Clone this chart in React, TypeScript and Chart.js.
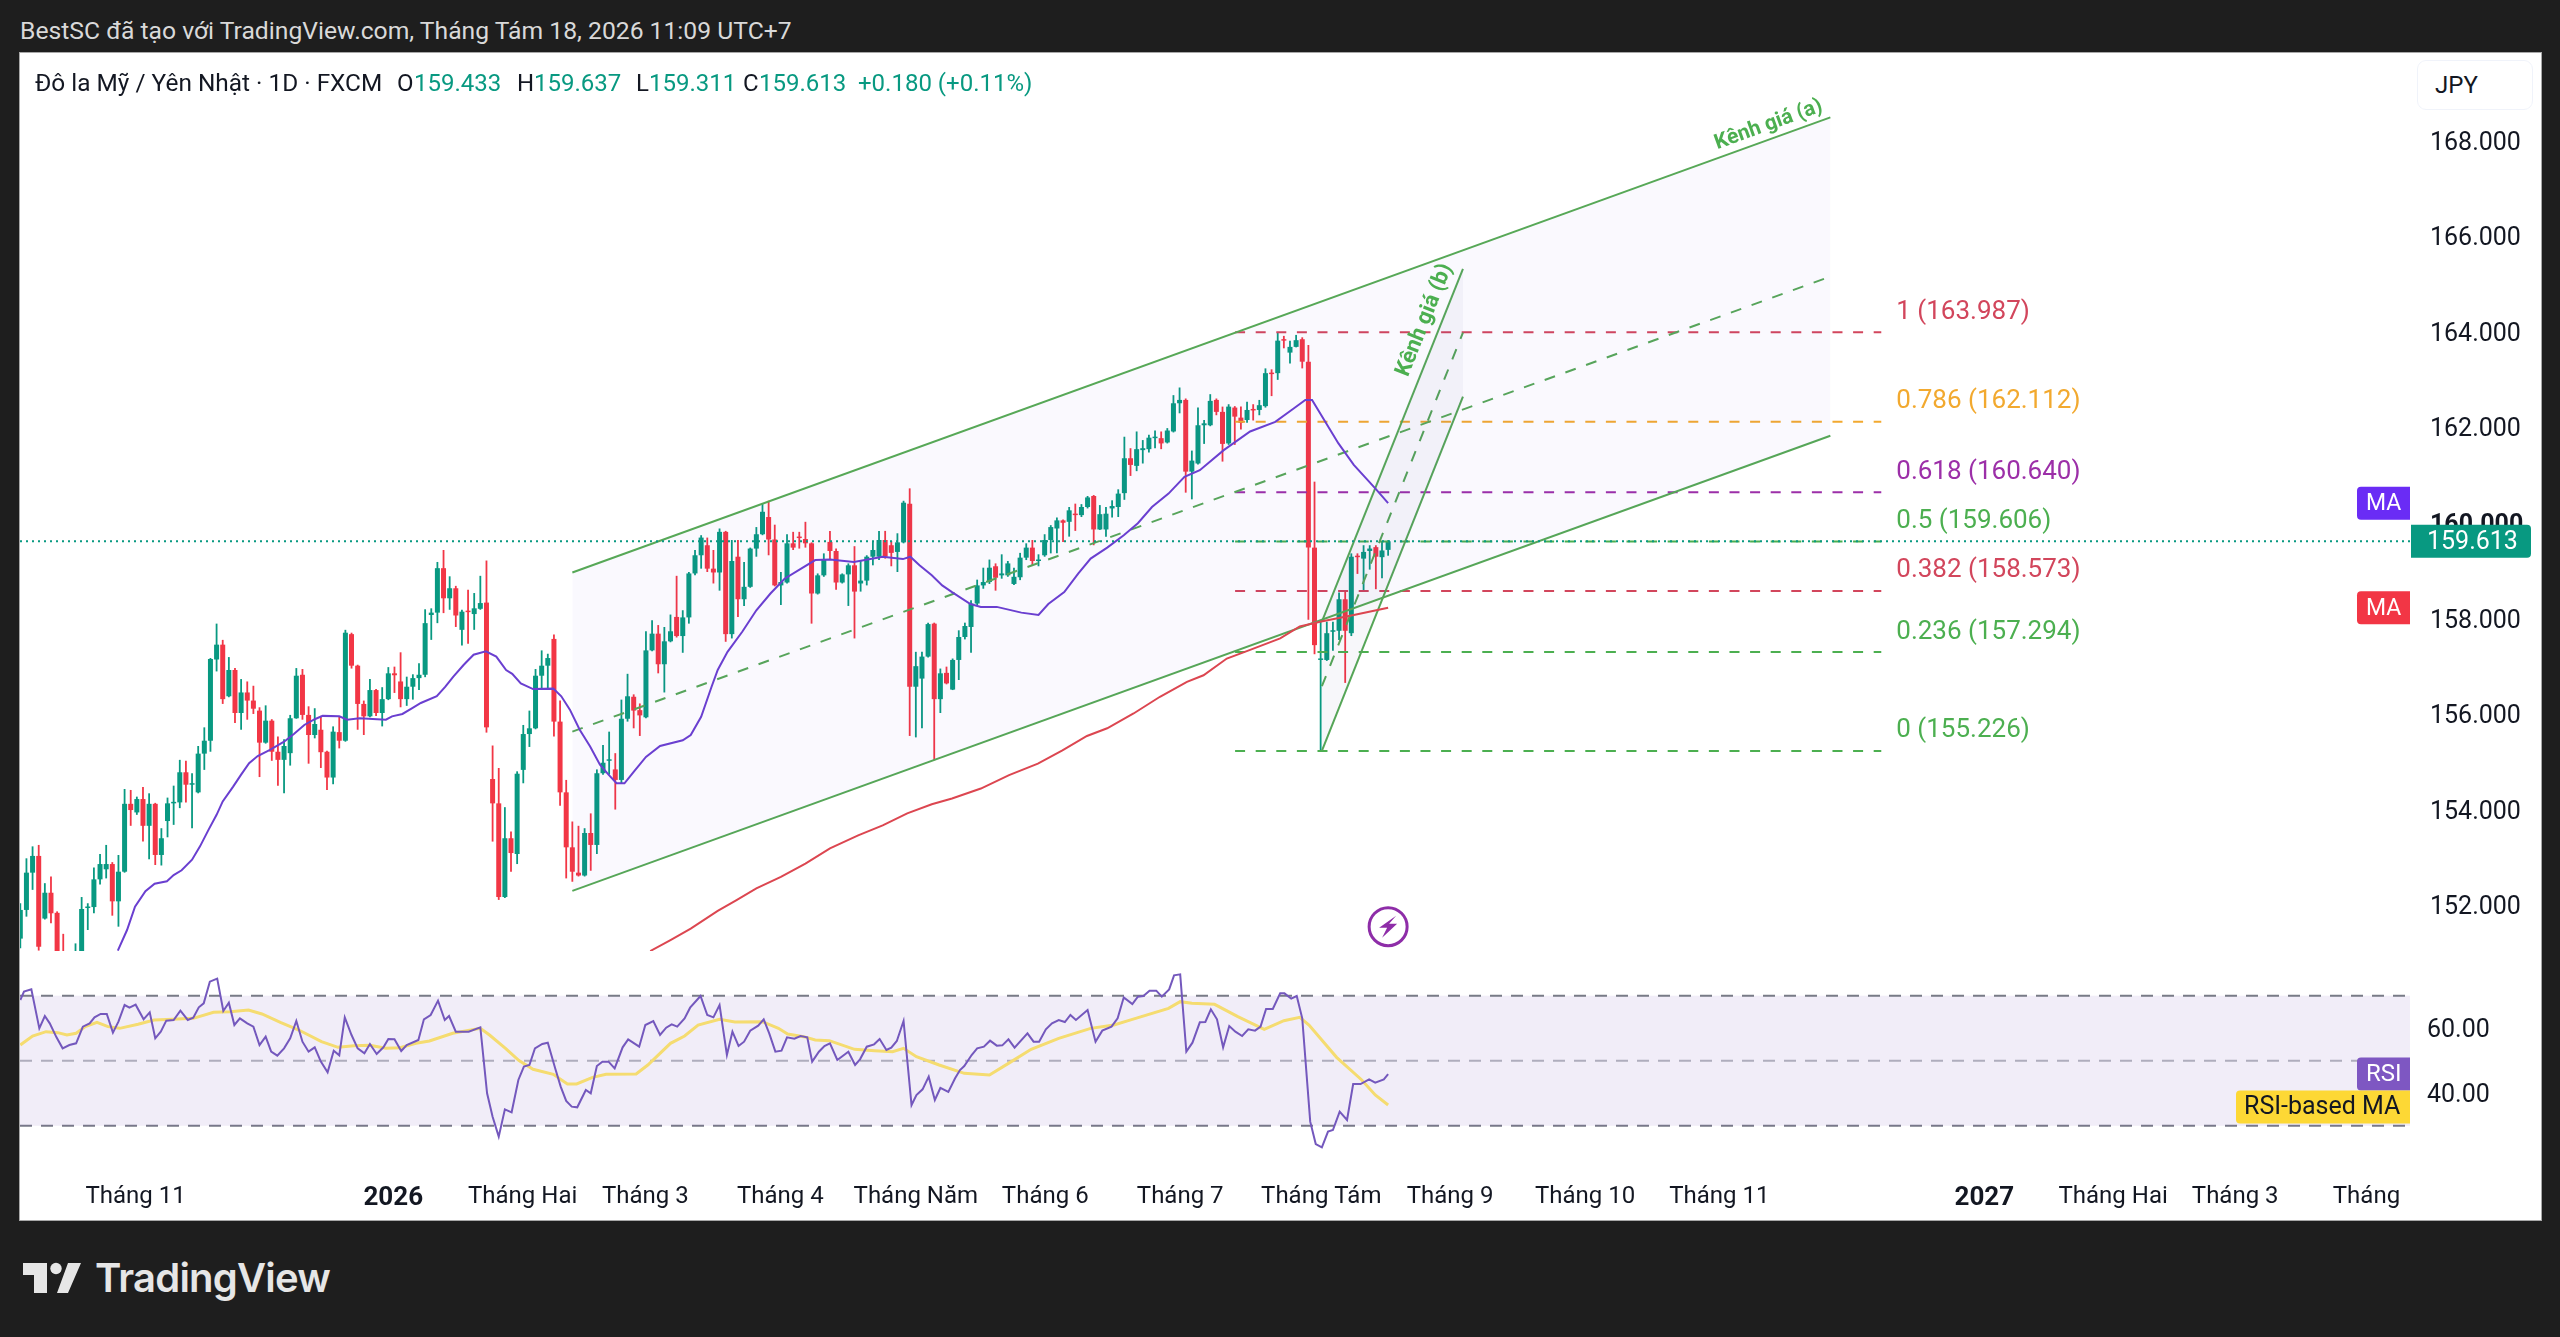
import React, { useEffect, useRef } from "react";
import { Chart, registerables } from "chart.js";

Chart.register(...registerables);

// ---------- candle series (index 0 .. 223, daily) ----------
const opens = [151.30,151.90,152.68,153.03,151.72,152.26,151.84,150.90,150.50,150.30,150.80,151.94,151.96,152.54,152.75,152.86,152.08,152.70,154.12,153.94,154.22,153.66,154.12,153.05,153.76,154.13,154.15,154.78,154.52,154.36,155.17,155.44,157.14,157.45,156.37,156.92,156.02,156.45,156.28,156.07,155.40,155.86,155.21,155.04,155.18,155.91,156.82,155.98,155.56,155.67,155.21,154.67,155.62,155.44,157.67,157.01,156.21,155.95,156.50,156.02,156.31,156.85,156.68,156.31,156.57,156.75,156.82,158.07,158.12,159.05,158.42,158.63,157.76,158.14,158.09,158.20,158.33,154.64,154.13,152.17,153.40,153.07,154.83,155.58,155.70,156.80,157.01,157.57,155.84,154.36,153.21,152.68,152.62,153.51,153.26,154.76,155.02,154.84,154.62,155.90,156.36,156.08,155.93,157.33,157.68,157.04,157.52,158.03,157.63,158.02,158.94,159.32,159.53,159.04,158.96,159.81,157.67,159.29,158.40,158.66,159.46,159.76,160.12,159.65,158.69,158.75,159.57,159.69,159.66,159.57,158.52,158.90,159.60,159.41,158.75,158.92,159.11,158.73,158.79,159.29,159.29,159.64,159.53,159.39,159.59,160.40,156.57,156.74,157.20,157.89,156.31,156.86,156.51,157.13,157.61,157.82,158.31,158.69,158.76,159.09,158.90,158.90,158.72,158.86,159.27,159.48,159.20,159.32,159.64,159.88,160.05,160.02,160.19,160.16,160.33,160.56,159.86,159.86,160.30,160.33,160.62,161.35,161.19,161.52,161.54,161.77,161.77,161.68,161.91,162.50,162.57,161.07,161.24,162.04,162.04,162.57,162.32,161.66,162.41,162.20,162.15,162.37,162.36,162.44,163.14,163.13,163.82,163.56,163.68,163.84,163.37,159.48,157.13,157.13,157.72,157.74,158.40,157.69,159.29,159.25,159.41,159.49,159.28,159.433];
const highs = [152.04,152.98,153.23,153.26,152.46,152.60,151.87,151.40,150.90,151.20,152.17,152.04,152.79,153.07,153.26,152.90,153.05,154.43,154.41,154.27,154.47,154.34,154.14,153.61,154.25,154.50,155.04,155.02,154.76,155.33,155.72,157.17,157.89,157.55,157.19,156.96,156.73,156.68,156.59,156.14,156.18,155.89,155.53,155.47,155.98,156.96,156.94,156.16,156.12,155.96,155.23,155.74,155.95,157.76,157.70,157.03,156.28,156.73,156.52,156.56,156.98,156.99,157.29,156.78,156.83,157.06,158.19,158.21,159.18,159.43,158.88,158.68,158.18,158.60,158.53,158.89,159.21,155.34,154.87,154.05,153.54,154.80,155.77,156.07,156.94,157.33,157.26,157.66,156.28,154.62,153.75,153.66,153.61,153.92,154.84,155.35,155.63,155.18,156.30,156.84,156.41,156.22,157.73,157.96,157.86,157.82,158.08,158.89,158.17,158.97,159.43,159.74,159.69,159.43,159.88,159.83,159.64,159.64,159.18,159.48,159.91,160.40,160.46,159.96,158.97,159.76,159.81,159.81,160.02,159.59,158.94,159.36,159.83,159.46,158.94,159.15,159.51,159.22,159.32,159.62,159.83,159.83,159.62,159.78,160.46,160.72,157.30,157.30,157.91,157.91,156.95,156.99,157.16,157.75,157.91,158.38,158.81,159.06,159.23,159.15,159.34,159.20,159.06,159.37,159.57,159.64,159.34,159.76,159.95,160.11,160.07,160.33,160.40,160.39,160.56,160.58,160.37,160.33,160.47,160.70,161.80,161.56,161.91,161.73,161.84,161.93,161.91,161.98,162.67,162.83,162.60,161.51,162.41,162.15,162.69,162.60,162.43,162.48,162.44,162.43,162.53,162.48,162.57,163.23,163.21,163.98,163.91,163.81,163.93,163.88,163.72,160.86,157.93,157.93,157.93,158.54,158.58,159.36,159.36,159.53,159.53,159.53,159.60,159.637];
const lows = [151.10,151.76,152.32,151.05,151.70,151.62,150.70,150.20,150.10,150.10,150.70,151.48,151.83,152.43,152.56,151.78,151.55,152.68,153.66,153.89,153.33,152.96,152.84,152.83,153.42,153.68,154.03,154.15,153.61,154.34,154.83,155.21,156.89,156.21,156.35,155.81,155.67,155.88,156.00,154.68,155.38,155.02,154.50,154.34,154.92,155.90,155.88,154.96,155.49,154.87,154.41,154.53,155.28,155.42,156.95,155.67,155.56,155.93,155.96,155.74,156.29,156.44,156.14,156.17,156.30,156.50,156.77,157.55,157.90,158.11,158.18,157.82,157.43,157.47,157.76,158.18,155.61,153.33,152.11,152.15,152.70,152.86,154.55,155.31,155.68,156.54,156.54,155.53,154.08,152.56,152.49,152.60,152.60,152.72,153.07,154.73,154.73,154.00,154.55,155.84,155.70,155.54,155.91,157.31,156.85,156.45,157.50,157.60,157.28,157.89,158.90,159.04,158.97,158.73,158.58,157.51,157.58,158.03,158.26,158.64,159.29,159.74,159.32,158.67,158.28,158.73,159.43,159.46,159.48,157.89,158.50,158.87,159.22,158.60,158.73,158.26,157.58,158.56,158.69,159.11,159.22,159.25,159.09,158.97,159.57,155.54,155.51,155.70,157.18,155.03,156.02,156.62,156.50,156.71,157.56,157.28,158.28,158.62,158.72,158.58,158.83,158.87,158.70,158.80,159.22,159.11,159.09,159.29,159.36,159.36,159.60,159.71,159.83,160.12,160.30,159.53,159.85,159.71,160.11,160.12,160.48,160.98,161.08,161.24,161.47,161.56,161.54,161.66,161.89,162.29,160.63,160.49,161.22,161.65,162.02,162.25,161.28,161.63,161.63,161.95,162.09,162.14,162.25,162.41,162.65,162.99,163.65,163.33,163.67,163.23,157.97,157.25,155.23,157.11,157.32,157.55,156.65,157.63,158.93,158.59,159.02,158.61,158.84,159.311];
const closes = [151.90,152.68,153.03,151.13,152.26,151.83,150.90,150.50,150.30,150.80,151.92,151.97,152.54,152.86,152.86,152.08,152.70,154.12,153.99,154.22,153.66,154.12,153.05,153.40,154.13,154.15,154.78,154.52,154.53,155.17,155.44,157.15,157.45,156.31,156.92,156.02,156.45,156.28,156.11,155.40,155.86,155.21,155.04,155.33,155.91,156.80,155.98,155.56,155.79,155.20,154.67,155.63,155.44,157.70,157.01,156.21,155.95,156.50,156.02,156.31,156.85,156.81,156.31,156.57,156.75,156.82,157.90,158.12,159.05,158.42,158.63,158.06,158.14,158.13,158.21,158.32,155.72,154.13,152.17,153.40,153.09,154.75,155.58,155.70,156.80,157.01,157.17,155.84,154.36,153.21,152.70,152.62,153.51,153.26,154.76,154.98,155.04,154.62,155.90,156.37,156.07,155.97,157.33,157.68,157.04,157.52,157.73,157.63,158.02,158.94,159.32,159.69,159.04,158.96,159.81,157.67,159.20,158.40,158.66,159.46,159.76,160.23,159.65,158.69,158.76,159.57,159.48,159.68,159.57,158.52,158.90,159.24,159.41,158.75,158.92,159.11,158.56,158.79,159.29,159.43,159.64,159.29,159.37,159.59,160.42,156.57,157.00,157.20,157.88,156.31,156.85,156.64,157.13,157.61,157.84,158.31,158.69,158.76,159.06,158.85,158.94,159.15,158.87,159.27,159.48,159.20,159.22,159.64,159.91,160.05,160.00,160.26,160.16,160.33,160.53,159.86,160.18,160.19,160.35,160.61,161.35,161.21,161.54,161.56,161.78,161.79,161.66,161.93,162.50,162.57,161.07,161.30,162.04,162.08,162.55,162.32,161.65,162.43,162.22,162.09,162.36,162.35,162.46,163.13,163.11,163.81,163.81,163.68,163.82,163.37,159.48,157.44,157.14,157.69,157.74,158.40,157.74,159.29,159.28,159.39,159.46,159.29,159.42,159.613];

// ---------- moving averages ----------
const maFastX = [15.9,17.4,18.7,20.4,21.9,23.9,25,26.3,28,29.3,30.7,32,33,34.7,36,37.3,38.7,40.7,43,44.6,46.3,48,49.3,52,53.3,55.3,59.6,60.6,62.3,63.9,65.3,67.9,69.3,70.6,72.3,73.9,75.9,77.6,79.2,80.2,81.6,83.6,86.9,88.2,89.6,91.2,92.9,94.5,95.9,97.2,98.5,100,102,104.3,108,109.3,111,112.7,113.7,115.3,117.7,120,122.3,124.6,127.3,129.6,132,135.9,138.6,140.6,143.9,145.1,146.6,148.6,150.3,151.9,154.9,156.6,159.2,163.2,166,167.6,170.2,172.5,174.5,177.2,179.9,182.2,184.5,187.2,189.8,192.3,196.2,200.5,204.6,207.6,209.5,210.6,214.9,217.4,220.9,223];
const maFastY = [151.05,151.48,151.97,152.29,152.45,152.5,152.63,152.73,152.95,153.23,153.58,153.89,154.17,154.48,154.73,154.97,155.12,155.25,155.42,155.58,155.77,155.89,155.96,155.95,155.88,155.91,155.88,155.95,156,156.12,156.23,156.37,156.57,156.78,157.03,157.24,157.31,157.2,156.92,156.84,156.64,156.52,156.53,156.37,156.09,155.67,155.32,154.94,154.73,154.55,154.55,154.79,155.1,155.33,155.45,155.56,155.94,156.57,156.92,157.3,157.72,158.17,158.52,158.83,159.04,159.22,159.23,159.18,159.24,159.29,159.24,159.29,159.11,158.9,158.69,158.55,158.3,158.24,158.24,158.12,158.07,158.3,158.55,158.94,159.25,159.48,159.74,159.99,160.33,160.61,160.96,161.1,161.52,161.91,162.11,162.39,162.57,162.57,161.66,161.21,160.72,160.41];
const maSlowX = [102.7,106,109.3,113.7,116.7,120,124,128,132,136.6,140.6,144.6,148.6,151.9,156.6,161.2,165.9,169.9,173.9,177.2,181.5,185.8,190.2,192.9,196.7,200.5,205.4,208.6,211.9,217.4,223];
const maSlowY = [151.04,151.27,151.51,151.88,152.1,152.35,152.59,152.87,153.19,153.46,153.67,153.92,154.11,154.23,154.44,154.72,154.96,155.24,155.54,155.7,156.01,156.36,156.67,156.81,157.16,157.34,157.58,157.83,157.93,158.07,158.22];

// ---------- RSI pane ----------
const rsiX = [0,0.6,1.8,3.1,4,4.8,5.9,6.9,8,9.1,10.2,11.3,12.1,13.1,14.1,15.1,16,17,17.8,18.8,20.1,21.1,22,22.9,23.8,25,26.1,27.3,28.2,29.1,29.9,30.9,32.1,33.1,34,34.9,35.8,37,38,39,40,40.9,41.9,43,44,45,46,47,48,49,50.1,51.1,52,52.9,54,55,56.1,57,58.1,59.2,60,61,62.1,63,64.9,65.8,66.9,68.1,69.2,69.9,71,72,73.1,75,76.1,77,78,79,80.1,81.2,82.1,83,83.9,85.1,86,87.2,88.1,89,89.9,90.8,92.2,93,94,94.9,95.9,96.9,98.2,99.1,100.9,101.9,103.2,104.3,105.3,106.2,107.1,108.3,109.2,110.9,112,113,114,115.2,116.1,117.1,118,119,120.3,121.2,122.1,123.1,124.1,125,126.2,127.2,128.3,129.1,130.2,131.1,132,133.2,135,136.1,136.9,138,139.2,140.1,141.2,142,142.9,144,145.3,146.1,147.1,148.1,149.1,150,151.3,152.4,153.2,153.9,155.1,156,157.1,158.1,159.2,160.1,161.1,162.1,164.2,165.2,166.1,167.2,168.2,169.3,170.3,171.2,172.1,174,175.3,176.4,177.9,178.9,179.9,181.3,182.2,183.1,184.1,185.2,186.1,187.3,188.1,189.1,190.1,191.1,192.3,193.2,194.1,195.1,196.1,197.1,198.1,199.2,200.2,201.3,202.2,203.1,204.2,205.4,206.1,207.2,208.1,209,210.3,211.2,212.2,213.2,214,215.1,216.3,217.3,218.5,219.9,220.9,222.3,223];
const rsiY = [68.67,71.24,71.95,59.95,63.75,61.49,57.19,53.8,54.83,55.34,60.47,61.49,63.34,64.37,64.37,58.62,62.01,67.13,66.31,67.24,62.72,64.88,56.88,58.93,62.31,62.52,65.39,62.52,63.24,66.42,67.65,74.31,75.24,65.29,67.85,60.98,63.03,61.49,60.47,54.83,57.39,52.77,51.54,53.8,56.88,62.21,55.85,52.77,54.11,49.7,46.42,53.08,51.65,63.34,57.9,53.8,52.26,55.13,52.06,54.11,56.67,56.57,52.98,54.83,56.37,62.72,64.06,68.47,62.52,63.75,58.93,58.93,58.93,60.26,39.95,32.77,26.62,35.03,34.11,44.06,48.16,48.67,53.8,55.13,55.54,47.65,42.01,37.6,35.85,35.65,40.98,39.95,48.36,49.7,49.7,47.65,54.11,56.57,54.31,60.98,62.21,57.9,60.16,61.19,60.47,63.03,66.31,69.9,64.06,63.34,67.13,51.75,58.93,54.52,55.85,59.24,60.77,62.72,58.42,52.77,53.08,57.19,56.77,57.6,57.19,49.7,52.77,54.52,55.34,50.21,52.77,48.67,50.42,54.31,55.03,56.67,53.29,54.01,56.06,62.21,36.36,39.44,41.19,45.08,37.9,41.6,40.36,44.57,47.13,48.36,51.75,53.8,54.31,56.16,54.62,54.72,56.57,54.01,58.42,55.85,55.85,59.64,61.49,62.52,61.9,64.06,62.52,65.6,55.85,59.24,60.47,63.03,69.49,67.44,69.7,69.9,71.54,71.54,69.7,71.95,76.26,76.57,52.77,55.54,61.8,61.9,65.8,62.72,54.11,60.67,58.93,57.6,59.64,59.24,60.47,65.9,65.9,70.72,70.72,69.08,69.9,63.03,31.24,24.36,23.34,28.16,28.67,34.31,31.75,42.82,42.82,44.26,43.24,44.26,45.9];
const rsiMaX = [0,2,4.2,6.1,7.6,9.1,10.6,12.5,14.3,16.2,19.2,21.8,24.8,28.2,31.5,34.2,37.2,39.4,42.4,45.4,49.1,51.8,54.4,57,59.6,61.9,64.5,66.7,70.5,75,76.5,79.1,81.3,83.6,86.9,89.2,90.7,93.3,95.5,100.4,102.3,106,108.3,110.5,114,116.5,121,123.6,125.1,127.7,129.6,131.9,136,139.3,142.2,144,146.1,149.8,153.9,158,161.1,164.8,169.3,174.5,178.3,181.3,187.2,189.1,191,194.7,198.5,202.8,206,208.6,210.1,214.6,218.7,220.9,223];
const rsiMaY = [54.83,57.6,58.93,58.62,57.9,58.42,60.47,61.8,60.47,59.95,61.19,62.52,62.72,63.03,64.88,65.08,65.6,64.37,61.8,59.44,55.85,54.11,54.62,54.72,53.8,54.01,55.34,56.06,58.42,59.95,57.9,53.8,50.01,47.34,45.8,42.83,42.83,44.88,45.8,45.9,48.67,55.34,57.6,60.98,62.72,61.9,62,59.95,58.21,57.39,56.36,56.16,53.49,53.08,52.77,53.8,51.24,48.67,46.11,45.6,49.18,53.49,56.88,59.95,60.98,62.72,66.11,68.16,67.65,67.34,63.54,59.64,62.31,63.34,60.98,51.03,44.06,39.44,36.36];
const rsiBands = [70, 50, 30];
const rsiTicks = [60, 40];

// ---------- axis ticks ----------
const priceTicks = [168, 166, 164, 162, 160, 158, 156, 154, 152];
const timeTickIndex = [18.8, 60.8, 81.9, 101.9, 123.9, 146, 167.1, 189.1, 212.1, 233.1, 255.1, 277, 320.2, 341.2, 361.1, 382.5];
const timeTickLabels = ["Tháng 11", "2026", "Tháng Hai", "Tháng 3", "Tháng 4", "Tháng Năm", "Tháng 6", "Tháng 7", "Tháng Tám", "Tháng 9", "Tháng 10", "Tháng 11", "2027", "Tháng Hai", "Tháng 3", "Tháng"];
const boldTimeLabels = ["2026", "2027"];

// ---------- drawings ----------
const lastPrice = 159.613;
const xRange = [-0.05, 389.6];
const channelAX = [90, 295.1];
const channelATop = [158.96, 168.48];
const channelAMid = [155.63, 165.15];
const channelABottom = [152.3, 161.82];
const channelBX = [212.2, 235.2];
const channelBTop = [157.93, 165.31];
const channelBMid = [156.58, 163.98];
const channelBBottom = [155.23, 162.64];
const fibX = [198.05, 303.4];
const fibRatios = ["1", "0.786", "0.618", "0.5", "0.382", "0.236", "0"];
const fibPrices = [163.987, 162.112, 160.64, 159.606, 158.573, 157.294, 155.226];
const fibColors = ["#d2465c", "#f2a92f", "#9c2fa8", "#4caf50", "#d2465c", "#4caf50", "#4caf50"];
const flashIconPrice = 151.55;

const UP = "#089981";
const DOWN = "#f23645";
const GREEN_LINE = "#57a857";
const FONT = "Roboto";
const TEXT = "#131722";

const pts = (xs: number[], ys: number[]) => xs.map((x, i) => ({ x, y: ys[i] }));
const lineDs = (data: any, color: string, order: number, extra: any = {}) => ({
  type: "line",
  data,
  borderColor: color,
  borderWidth: 2,
  pointRadius: 0,
  tension: 0,
  fill: false,
  order,
  ...extra,
});
const candleColors = opens.map((o, i) => (closes[i] >= o ? UP : DOWN));

function tag(ctx: CanvasRenderingContext2D, x: number, y: number, w: number, h: number, bg: string, fg: string, text: string, radii: number[], textX: number, size = 24) {
  ctx.save();
  ctx.fillStyle = bg;
  ctx.beginPath();
  (ctx as any).roundRect(x, y, w, h, radii);
  ctx.fill();
  ctx.fillStyle = fg;
  ctx.font = `${size}px ${FONT}`;
  ctx.textBaseline = "middle";
  ctx.textAlign = "left";
  ctx.fillText(text, textX, y + h / 2 + 1);
  ctx.restore();
}

const priceOverlay = {
  id: "priceOverlay",
  afterDatasetsDraw(chart: any) {
    const { ctx, scales } = chart;
    const x = scales.x;
    const y = scales.y;
    ctx.save();
    // fib labels
    ctx.font = `26px ${FONT}`;
    ctx.textBaseline = "middle";
    ctx.textAlign = "left";
    fibPrices.forEach((p, i) => {
      ctx.fillStyle = fibColors[i];
      ctx.fillText(`${fibRatios[i]} (${p.toFixed(3)})`, x.getPixelForValue(fibX[1]) + 15, y.getPixelForValue(p) - 20);
    });
    // channel labels
    ctx.fillStyle = "#4caf50";
    ctx.font = `bold 21px ${FONT}`;
    ctx.textAlign = "right";
    const ax1 = x.getPixelForValue(channelAX[1]);
    const ay1 = y.getPixelForValue(channelATop[1]);
    const aAngle = Math.atan2(y.getPixelForValue(channelATop[0]) - ay1, ax1 - x.getPixelForValue(channelAX[0]));
    ctx.save();
    ctx.translate(ax1 - 4, ay1 + 1);
    ctx.rotate(-aAngle);
    ctx.textBaseline = "bottom";
    ctx.fillText("Kênh giá (a)", 0, -3);
    ctx.restore();
    const bx1 = x.getPixelForValue(channelBX[1]);
    const by1 = y.getPixelForValue(channelBTop[1]);
    const bAngle = Math.atan2(y.getPixelForValue(channelBTop[0]) - by1, bx1 - x.getPixelForValue(channelBX[0]));
    ctx.save();
    ctx.translate(bx1 - 3, by1 + 1);
    ctx.rotate(-bAngle);
    ctx.textBaseline = "bottom";
    ctx.font = `bold 22px ${FONT}`;
    ctx.fillText("Kênh giá (b)", 0, -3);
    ctx.restore();
    // flash icon at the last bar
    const ix = x.getPixelForValue(opens.length - 1);
    const iy = y.getPixelForValue(flashIconPrice);
    ctx.strokeStyle = "#8e2da8";
    ctx.fillStyle = "#8e2da8";
    ctx.lineWidth = 3;
    ctx.beginPath();
    ctx.arc(ix, iy, 19, 0, Math.PI * 2);
    ctx.stroke();
    ctx.beginPath();
    ctx.moveTo(ix + 8, iy - 11);
    ctx.lineTo(ix - 9, iy + 1);
    ctx.lineTo(ix - 1, iy + 1);
    ctx.lineTo(ix - 6, iy + 11);
    ctx.lineTo(ix + 9, iy - 3);
    ctx.lineTo(ix + 1, iy - 3);
    ctx.closePath();
    ctx.fill();
    ctx.restore();
  },
  afterDraw(chart: any) {
    const { ctx, scales, chartArea } = chart;
    const y = scales.y;
    const right = chartArea.right;
    const priceMid = y.getPixelForValue(lastPrice);
    tag(ctx, right + 1, priceMid - 16.5, 120, 33, UP, "#ffffff", lastPrice.toFixed(3), [0, 4, 4, 0], right + 17, 25);
    const fastMid = y.getPixelForValue(maFastY[maFastY.length - 1]);
    const slowMid = y.getPixelForValue(maSlowY[maSlowY.length - 1]);
    tag(ctx, right - 53, fastMid - 16.5, 53, 33, "#6a2cf5", "#ffffff", "MA", [4, 0, 0, 4], right - 44, 23);
    tag(ctx, right - 53, slowMid - 16.5, 53, 33, "#f23645", "#ffffff", "MA", [4, 0, 0, 4], right - 44, 23);
  },
};

const rsiOverlay = {
  id: "rsiOverlay",
  afterDatasetsDraw(chart: any) {
    const { ctx, scales, chartArea } = chart;
    const y = scales.y;
    const right = chartArea.right;
    const a = y.getPixelForValue(rsiY[rsiY.length - 1]);
    tag(ctx, right - 53, a - 16.5, 53, 33, "#7e57c2", "#ffffff", "RSI", [4, 0, 0, 4], right - 44, 24);
    tag(ctx, right - 174, a + 16.5, 174, 33, "#fdd835", "#131722", "RSI-based MA", [4, 0, 0, 4], right - 166, 25);
  },
};

const fixedRightWidth = (s: any) => {
  s.width = 131;
  s.paddingTop = 0;
  s.paddingBottom = 0;
  s.paddingLeft = 0;
  s.paddingRight = 0;
};

// A blank first line with a small line height nudges the axis text down to where the picture has it.
const nudged = (text: string) => ["", text];

export default function App() {
  const priceRef = useRef<HTMLCanvasElement | null>(null);
  const rsiRef = useRef<HTMLCanvasElement | null>(null);

  useEffect(() => {
    document.body.style.margin = "0";
    document.body.style.background = "#1e1e1e";
    document.documentElement.style.overflow = "hidden";

    const idx = opens.map((_, i) => i);
    const priceChart = new Chart(priceRef.current as any, {
      type: "bar",
      data: {
        datasets: [
          lineDs(pts(channelAX, channelATop), GREEN_LINE, 1, { fill: "+1", backgroundColor: "rgba(80,60,220,0.03)" }),
          lineDs(pts(channelAX, channelABottom), GREEN_LINE, 1),
          lineDs(pts(channelAX, channelAMid), GREEN_LINE, 1, { borderDash: [11, 11] }),
          lineDs(pts(channelBX, channelBTop), GREEN_LINE, 1, { fill: "+1", backgroundColor: "rgba(60,60,120,0.04)" }),
          lineDs(pts(channelBX, channelBBottom), GREEN_LINE, 1),
          lineDs(pts(channelBX, channelBMid), GREEN_LINE, 1, { borderDash: [11, 11] }),
          ...fibPrices.map((p, i) =>
            lineDs(pts(fibX, [p, p]), fibColors[i], 2, { borderDash: [10, 10.6] })
          ),
          lineDs(pts(xRange, [lastPrice, lastPrice]), UP, 0, { borderDash: [2, 4] }),
          lineDs(pts(maFastX, maFastY), "#6a3fd0", 0),
          lineDs(pts(maSlowX, maSlowY), "#dc4650", 0),
          {
            type: "bar",
            data: idx.map((i) => ({ x: i, y: [Math.min(opens[i], closes[i]), Math.max(opens[i], closes[i])] })),
            backgroundColor: candleColors,
            borderWidth: 0,
            barThickness: 5,
            minBarLength: 1.5,
            grouped: false,
            inflateAmount: 0,
            order: 3,
          },
          {
            type: "bar",
            data: idx.map((i) => ({ x: i, y: [lows[i], highs[i]] })),
            backgroundColor: candleColors,
            borderWidth: 0,
            barThickness: 1.8,
            grouped: false,
            inflateAmount: 0,
            order: 4,
          },
        ] as any,
      },
      options: {
        responsive: false,
        animation: false,
        devicePixelRatio: 1,
        events: [],
        layout: { padding: 0 },
        plugins: { legend: { display: false }, tooltip: { enabled: false } },
        scales: {
          x: { type: "linear", display: false, min: xRange[0], max: xRange[1], offset: false, grid: { display: false } },
          y: {
            type: "linear",
            position: "right",
            min: 151.041,
            max: 169.828,
            bounds: "data",
            grid: { display: false },
            border: { display: false },
            afterFit: fixedRightWidth,
            afterBuildTicks: (s: any) => {
              s.ticks = priceTicks.map((value) => ({ value }));
            },
            ticks: {
              padding: 12,
              color: TEXT,
              autoSkip: false,
              callback: (v: any) => nudged(Number(v).toFixed(3)),
              font: (c: any) => ({ family: FONT, size: 25, lineHeight: "6px", weight: c.tick && c.tick.value === 160 ? "bold" : "normal" }),
            },
          },
        },
      } as any,
      plugins: [priceOverlay],
    } as any);

    const rsiChart = new Chart(rsiRef.current as any, {
      type: "line",
      data: {
        datasets: [
          lineDs(pts(xRange, [rsiBands[0], rsiBands[0]]), "#787b86", 5, {
            fill: "+1",
            backgroundColor: "rgba(126,87,194,0.11)",
            borderDash: [12, 9],
          }),
          lineDs(pts(xRange, [rsiBands[2], rsiBands[2]]), "#787b86", 5, { borderDash: [12, 9] }),
          lineDs(pts(xRange, [rsiBands[1], rsiBands[1]]), "rgba(120,123,134,0.55)", 5, { borderDash: [12, 9] }),
          lineDs(pts(rsiMaX, rsiMaY), "#f5dc70", 2, { borderWidth: 3 }),
          lineDs(pts(rsiX, rsiY), "#7458bd", 1),
        ] as any,
      },
      options: {
        responsive: false,
        animation: false,
        devicePixelRatio: 1,
        events: [],
        layout: { padding: 0 },
        plugins: { legend: { display: false }, tooltip: { enabled: false } },
        scales: {
          x: {
            type: "linear",
            min: xRange[0],
            max: xRange[1],
            bounds: "data",
            offset: false,
            grid: { display: false, drawTicks: false },
            border: { display: false },
            afterFit: (s: any) => {
              s.height = 54;
              s.paddingLeft = 0;
              s.paddingRight = 0;
              s.paddingTop = 0;
              s.paddingBottom = 0;
            },
            afterBuildTicks: (s: any) => {
              s.ticks = timeTickIndex.map((value) => ({ value }));
            },
            ticks: {
              autoSkip: false,
              maxRotation: 0,
              padding: 18,
              color: TEXT,
              callback: (_v: any, i: number) => timeTickLabels[i],
              font: (c: any) => {
                const lab = timeTickLabels[timeTickIndex.indexOf(c.tick ? c.tick.value : -1)];
                return { family: FONT, size: boldTimeLabels.includes(lab) ? 26 : 24, weight: boldTimeLabels.includes(lab) ? "bold" : "normal" };
              },
            },
          },
          y: {
            type: "linear",
            position: "right",
            min: 17.9,
            max: 83.75,
            bounds: "data",
            grid: { display: false, drawTicks: false },
            border: { display: false },
            afterFit: fixedRightWidth,
            afterBuildTicks: (s: any) => {
              s.ticks = rsiTicks.map((value) => ({ value }));
            },
            ticks: {
              padding: 17,
              color: TEXT,
              callback: (v: any) => nudged(Number(v).toFixed(2)),
              font: { family: FONT, size: 25, lineHeight: "6px" },
            },
          },
        },
      } as any,
      plugins: [rsiOverlay],
    } as any);

    return () => {
      priceChart.destroy();
      rsiChart.destroy();
    };
  }, []);

  const span = (left: number, top: number, text: string, color: string, size = 24, extra: any = {}) => (
    <span style={{ position: "absolute", left, top, color, fontSize: size, lineHeight: "30px", whiteSpace: "nowrap", ...extra }}>{text}</span>
  );
  const V = "#089981";

  return (
    <div style={{ position: "absolute", left: 0, top: 0, width: 2560, height: 1337, background: "#1e1e1e", overflow: "hidden", fontFamily: FONT }}>
      {span(20, 16, "BestSC đã tạo với TradingView.com, Tháng Tám 18, 2026 11:09 UTC+7", "#d9d9d9", 24.7)}
      <div style={{ position: "absolute", left: 19, top: 52, width: 2521, height: 1167, background: "#ffffff", border: "1px solid #a8a8a8" }} />
      <canvas ref={priceRef} width={2521} height={898} style={{ position: "absolute", left: 20, top: 53, display: "block" }} />
      <canvas ref={rsiRef} width={2521} height={268} style={{ position: "absolute", left: 20, top: 951, display: "block" }} />
      {span(35, 68, "Đô la Mỹ / Yên Nhật · 1D · FXCM", TEXT, 24.4)}
      {span(397, 68, "O", TEXT)}
      {span(414, 68, "159.433", V)}
      {span(517, 68, "H", TEXT)}
      {span(534, 68, "159.637", V)}
      {span(636, 68, "L", TEXT)}
      {span(649, 68, "159.311", V)}
      {span(743, 68, "C", TEXT)}
      {span(759, 68, "159.613", V)}
      {span(858, 68, "+0.180 (+0.11%)", V)}
      <div style={{ position: "absolute", left: 2417, top: 60, width: 114, height: 48, border: "1px solid #f0f3fa", borderRadius: 9, background: "#ffffff" }} />
      {span(2435, 70, "JPY", TEXT, 24)}
      <svg width="100" height="50" viewBox="0 0 100 50" style={{ position: "absolute", left: 0, top: 1250 }}>
        <path d="M23 13H47V43H34V25H23ZM68 13H81L68 43H57Z" fill="#e6e6e6" />
        <circle cx="56" cy="18.5" r="5.7" fill="#e6e6e6" />
      </svg>
      {span(95, 1261, "TradingView", "#e6e6e6", 40, { fontWeight: 600, fontFamily: "Inter", lineHeight: "34px", letterSpacing: "-0.8px" })}
    </div>
  );
}
